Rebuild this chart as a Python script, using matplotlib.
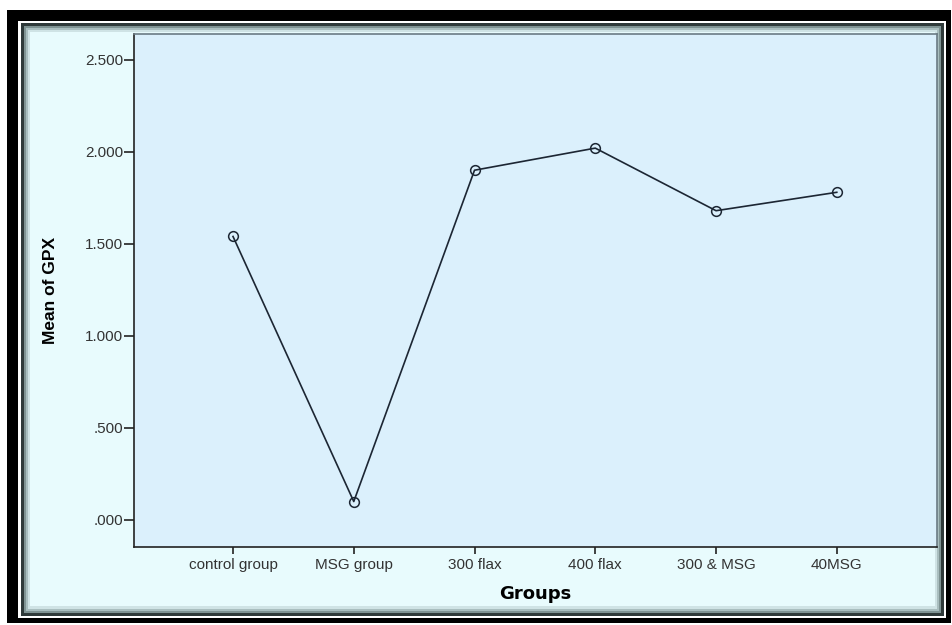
import matplotlib
matplotlib.use("Agg")
import matplotlib.pyplot as plt
from matplotlib.patches import Rectangle

groups = ["control group", "MSG group", "300 flax", "400 flax", "300 & MSG", "40MSG"]
gpx_mean = [1.54, 0.10, 1.90, 2.02, 1.68, 1.78]
y_ticks = [0.0, 0.5, 1.0, 1.5, 2.0, 2.5]
y_tick_labels = [".000", ".500", "1.000", "1.500", "2.000", "2.500"]

W, H = 953, 625
plt.rcParams['font.family'] = ['Liberation Sans', 'DejaVu Sans']

fig = plt.figure(figsize=(W / 100, H / 100), dpi=100)
fig.patch.set_facecolor("white")


def frame_rect(x0, y0, x1, y1, color):
    """rectangle given in pixel coords (top-left origin)"""
    r = Rectangle((x0 / W, 1 - y1 / H), (x1 - x0) / W, (y1 - y0) / H,
                  transform=fig.transFigure, facecolor=color, edgecolor="none",
                  zorder=-10)
    fig.add_artist(r)


# picture frame around the chart
frame_rect(7, 10, 951, 623, "black")
frame_rect(18, 21, 946, 618, "white")
frame_rect(21, 23, 944, 616, "#2f3a3a")
frame_rect(24, 26, 941, 613, "#7f9393")
frame_rect(26, 28, 939, 611, "#a9bebf")
frame_rect(28, 30, 937, 609, "#cfe3e5")
frame_rect(30, 32, 935, 606, "#e8fbfd")

ax = fig.add_axes([134 / W, 1 - 547 / H, 803 / W, 513 / H])
ax.set_facecolor("#dbf0fc")

x = list(range(len(groups)))
ax.plot(x, gpx_mean, color="#1c2633", linewidth=1.2, marker="o",
        markersize=7, markerfacecolor="none", markeredgecolor="#1c2633",
        markeredgewidth=1.1)

ax.set_xlim(-0.82, 5.83)
ax.set_ylim(-0.147, 2.64)
ax.set_xticks(x)
ax.set_xticklabels(groups, fontsize=11, color="#333333")
ax.set_yticks(y_ticks)
ax.set_yticklabels(y_tick_labels, fontsize=11, color="#333333")
ax.tick_params(axis="both", direction="out", width=1.2, color="#222222")
ax.tick_params(axis="x", length=5, pad=3)
ax.tick_params(axis="y", length=7, pad=1)

for side in ["left", "bottom"]:
    ax.spines[side].set_color("#222222")
    ax.spines[side].set_linewidth(1.2)
for side in ["top", "right"]:
    ax.spines[side].set_color("#6b7b84")
    ax.spines[side].set_linewidth(1.2)

ax.set_ylabel("Mean of GPX", fontsize=12.5, fontweight="bold", color="black")
ax.yaxis.set_label_coords(-0.095, 0.5)
ax.set_xlabel("Groups", fontsize=13, fontweight="bold", color="black",
              family=["DejaVu Sans"])
ax.xaxis.set_label_coords(0.5, -0.075)

fig.savefig("out.png", dpi=100)
